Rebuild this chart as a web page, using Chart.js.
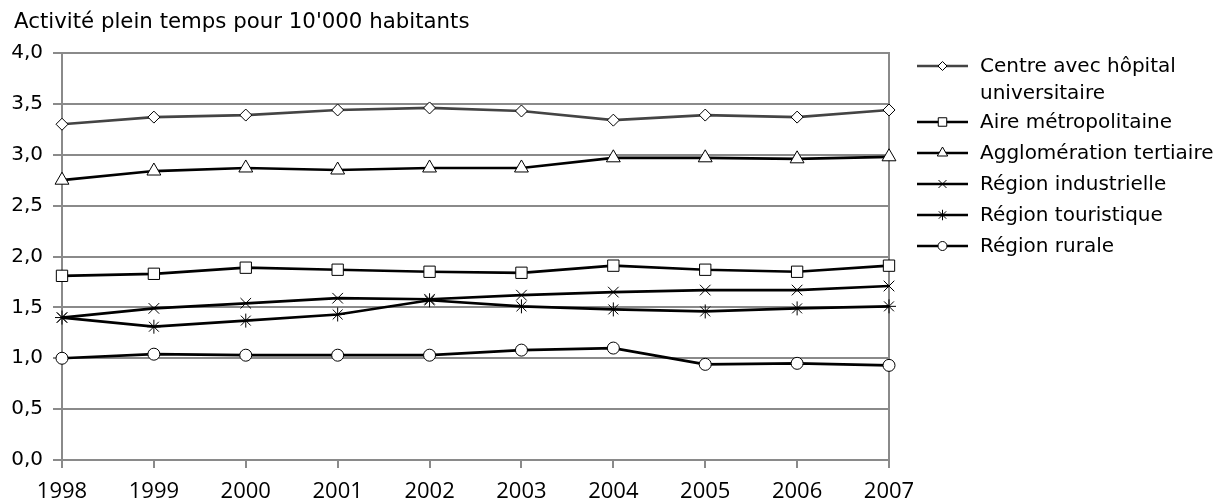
<!DOCTYPE html>
<html>
<head>
<meta charset="utf-8">
<script src="https://cdn.jsdelivr.net/npm/chart.js@4.4.1/dist/chart.umd.min.js"></script>
<style>
  html, body { margin: 0; padding: 0; background: #fff; }
  #wrap { width: 1223px; height: 504px; position: relative; }
</style>
</head>
<body>
<div id="wrap"><canvas id="chart" width="1223" height="504"></canvas></div>
<script>
// Data
const years = ['1998', '1999', '2000', '2001', '2002', '2003', '2004', '2005', '2006', '2007'];
const centreHopital = [3.30, 3.37, 3.39, 3.44, 3.46, 3.43, 3.34, 3.39, 3.37, 3.44];
const aireMetro = [1.81, 1.83, 1.89, 1.87, 1.85, 1.84, 1.91, 1.87, 1.85, 1.91];
const agglomeration = [2.75, 2.84, 2.87, 2.85, 2.87, 2.87, 2.97, 2.97, 2.96, 2.98];
const industrielle = [1.40, 1.49, 1.54, 1.59, 1.58, 1.62, 1.65, 1.67, 1.67, 1.71];
const touristique = [1.40, 1.31, 1.37, 1.43, 1.57, 1.51, 1.48, 1.46, 1.49, 1.51];
const rurale = [1.00, 1.04, 1.03, 1.03, 1.03, 1.08, 1.10, 0.94, 0.95, 0.93];
const yTicks = [0, 0.5, 1, 1.5, 2, 2.5, 3, 3.5, 4];
const title = "Activité plein temps pour 10'000 habitants";

const FONT = "'DejaVu Sans', Verdana, sans-serif";
const GRID = '#8a8a8a';

function series(label, data, style, radius, color) {
    return {
        label: label,
        data: data,
        borderColor: color || '#000',
        borderWidth: 2.7,
        pointStyle: style,
        pointRadius: radius,
        pointHoverRadius: radius,
        pointBackgroundColor: '#fff',
        pointBorderColor: '#000',
        pointBorderWidth: 1,
        tension: 0
    };
}

// Right border of the plot + title + legend drawn on the canvas
const extras = {
    id: 'extras',
    beforeDatasetsDraw(chart) {
        const ctx = chart.ctx, a = chart.chartArea;
        ctx.save();
        ctx.strokeStyle = GRID;
        ctx.lineWidth = 2;
        ctx.beginPath();
        ctx.moveTo(a.right, a.top - 1);
        ctx.lineTo(a.right, a.bottom);
        ctx.stroke();
        ctx.restore();
    },
    afterDraw(chart) {
        const ctx = chart.ctx;
        ctx.save();
        // title
        ctx.fillStyle = '#000';
        ctx.font = '21.3px ' + FONT;
        ctx.textBaseline = 'middle';
        ctx.textAlign = 'left';
        ctx.fillText(title, 14, 22);

        const rows = [66, 122, 153, 184, 215, 246];
        chart.data.datasets.forEach((ds, i) => {
            const y = rows[i];
            ctx.strokeStyle = ds.borderColor;
            ctx.lineWidth = 2.7;
            ctx.beginPath();
            ctx.moveTo(917, y);
            ctx.lineTo(968, y);
            ctx.stroke();
            ctx.fillStyle = '#fff';
            ctx.strokeStyle = '#000';
            ctx.lineWidth = 1;
            Chart.helpers.drawPoint(ctx, {pointStyle: ds.pointStyle, radius: ds.pointRadius * 0.75, rotation: 0, borderWidth: 1}, 942.5, y);
            ctx.fillStyle = '#000';
            ctx.font = '20px ' + FONT;
            const lines = Array.isArray(ds.label) ? ds.label : [ds.label];
            lines.forEach((t, k) => ctx.fillText(t, 980, y + 1 + k * 27));
        });
        ctx.restore();
    }
};

new Chart(document.getElementById('chart'), {
    type: 'line',
    data: {
        labels: years,
        datasets: [
            series(['Centre avec hôpital', 'universitaire'], centreHopital, 'rectRot', 6, '#444'),
            series('Aire métropolitaine', aireMetro, 'rect', 8),
            series('Agglomération tertiaire', agglomeration, 'triangle', 8),
            series('Région industrielle', industrielle, 'crossRot', 7.5),
            series('Région touristique', touristique, 'star', 7),
            series('Région rurale', rurale, 'circle', 6)
        ]
    },
    plugins: [extras],
    options: {
        responsive: false,
        animation: false,
        layout: { padding: { left: 0, right: 334, top: 53, bottom: 0 } },
        plugins: {
            legend: { display: false },
            title: { display: false },
            tooltip: { enabled: false }
        },
        scales: {
            x: {
                afterFit: s => { s.height = 44; },
                grid: { drawOnChartArea: false, drawTicks: true, tickLength: 8, color: GRID, lineWidth: 2 },
                border: { color: GRID, width: 2 },
                ticks: {
                    color: '#000',
                    maxRotation: 0,
                    autoSkip: false,
                    padding: 11,
                    font: { family: "'Open Sans', sans-serif", size: 22 }
                }
            },
            y: {
                min: 0,
                max: 4,
                afterFit: s => { s.width = 62; },
                afterBuildTicks: s => { s.ticks = yTicks.map(v => ({ value: v })); },
                grid: { color: GRID, lineWidth: 2, tickLength: 9 },
                border: { color: GRID, width: 2 },
                ticks: {
                    color: '#000',
                    padding: 10,
                    font: { family: FONT, size: 20 },
                    callback: v => v.toFixed(1).replace('.', ',')
                }
            }
        }
    }
});
</script>
</body>
</html>
